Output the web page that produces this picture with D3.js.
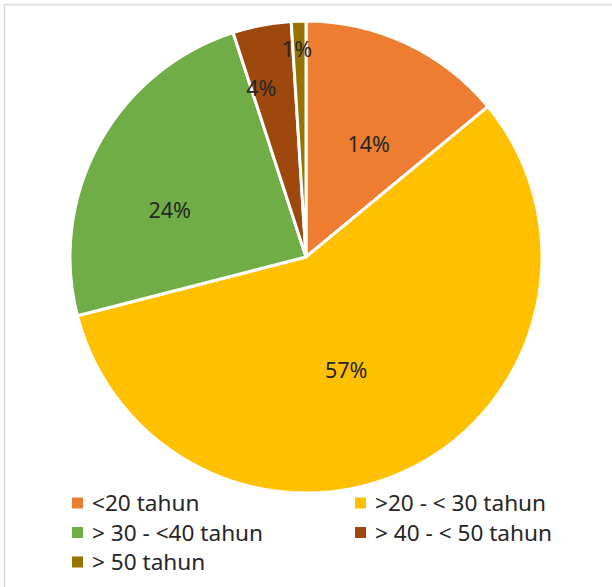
<!DOCTYPE html>
<html>
<head>
<meta charset="utf-8">
<script src="https://cdn.jsdelivr.net/npm/d3@7"></script>
<style>
  body { margin: 0; background: #fff; }
  svg { display: block; }
</style>
</head>
<body>
<div id="chart"></div>
<script>
// age groups and their share (%)
var categories = ["<20 tahun", ">20 - < 30 tahun", "> 30 - <40 tahun", "> 40 - < 50 tahun", "> 50 tahun"];
var values = [14, 57, 24, 4, 1];
var colors = ["#ED7D31", "#FFC000", "#70AD47", "#9E480E", "#997300"];

// excel "best fit" label placement: fraction of radius, angle nudge (deg)
var labelRadius = [0.545, 0.51, 0.61, 0.74, 0.88];
var labelNudge = [4, 7.5, -10, -4, -0.7];

var width = 612, height = 587;
var cx = 306, cy = 257, radius = 236;

var svg = d3.select("#chart").append("svg")
    .attr("width", width)
    .attr("height", height);

// chart area border (right/bottom edges fall off the picture)
svg.append("rect")
    .attr("x", 4.5).attr("y", 4.5)
    .attr("width", width + 10).attr("height", height + 10)
    .style("fill", "#fff")
    .style("stroke", "#d9d9d9")
    .style("stroke-width", 1.5);

var data = categories.map(function (c, i) {
    return { name: c, value: values[i], color: colors[i], lr: labelRadius[i], ln: labelNudge[i] };
});

var pie = d3.pie().sort(null).value(function (d) { return d.value; });
var arcs = pie(data);
var arc = d3.arc().innerRadius(0).outerRadius(radius);

var g = svg.append("g").attr("transform", "translate(" + cx + "," + cy + ")");

g.selectAll("path")
    .data(arcs)
    .enter()
    .append("path")
    .attr("d", arc)
    .style("fill", function (d) { return d.data.color; })
    .style("stroke", "#fff")
    .style("stroke-width", 3)
    .style("stroke-linejoin", "round");

g.selectAll("text.pct")
    .data(arcs)
    .enter()
    .append("text")
    .attr("class", "pct")
    .attr("transform", function (d) {
        var r = radius * d.data.lr;
        var a = (d.startAngle + d.endAngle) / 2 + d.data.ln * Math.PI / 180;
        return "translate(" + (r * Math.sin(a)) + "," + (-r * Math.cos(a)) + ")";
    })
    .attr("dy", "0.36em")
    .style("text-anchor", "middle")
    .style("font-family", "'Noto Sans', sans-serif")
    .style("font-size", "21.5px")
    .style("fill", "#262626")
    .text(function (d) { return d.data.value + "%"; });

// legend, two columns
var legendX = [72, 355], legendY0 = 503, legendStep = 29.5;
var legend = svg.append("g").attr("class", "legend");
var items = legend.selectAll("g")
    .data(data)
    .enter()
    .append("g")
    .attr("transform", function (d, i) {
        return "translate(" + legendX[i % 2] + "," + (legendY0 + Math.floor(i / 2) * legendStep) + ")";
    });
items.append("rect")
    .attr("x", 0).attr("y", -5.5)
    .attr("width", 11).attr("height", 11)
    .style("fill", function (d) { return d.color; });
items.append("text")
    .attr("x", 20)
    .attr("dy", "0.36em")
    .style("font-family", "'Noto Sans', sans-serif")
    .style("font-size", "22.6px")
    .style("fill", "#262626")
    .text(function (d) { return d.name; });
</script>
</body>
</html>
